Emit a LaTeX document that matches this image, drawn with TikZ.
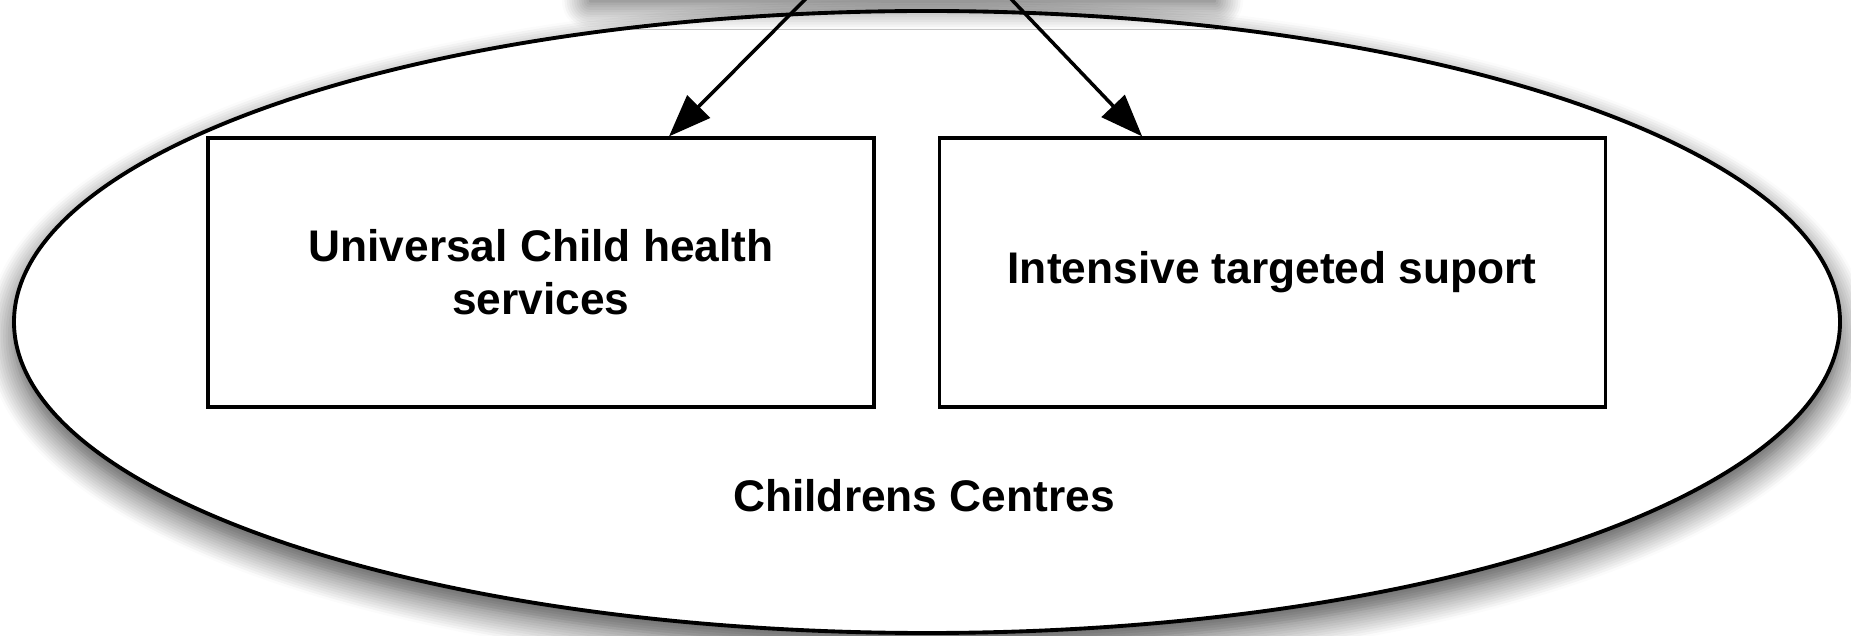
\documentclass[tikz,border=0pt]{standalone}
\usepackage{fontspec}
\setmainfont{Liberation Sans}
\usetikzlibrary{positioning, arrows.meta, shapes.geometric, calc, shadows.blur}

\begin{document}
\begin{tikzpicture}[
    svcbox/.style={draw, line width=0.9pt, fill=white, minimum width=6.66cm, minimum height=2.69cm, align=center, font=\bfseries\fontsize{12.6}{15}\selectfont},
    link/.style={-{Triangle[length=12pt, width=9pt, fill=black]}, line width=1pt, draw=black},
    softshadow/.style={blur shadow={shadow xshift=0pt, shadow yshift=-0.14cm, shadow blur radius=0.28cm, shadow blur steps=12, shadow opacity=75}}]
    \useasboundingbox (0,0) rectangle (18.51,6.35);
    % outer ellipse
    \draw[line width=1.1pt, fill=white, softshadow] (9.27,3.13) ellipse [x radius=9.13, y radius=3.11];
    \node[font=\bfseries\fontsize{12.6}{15}\selectfont] (cclabel) at (9.24,1.39) {Childrens Centres};
    % the two services
    \node[svcbox] (univ) at (5.41,3.625) {Universal Child health\\services};
    \node[svcbox, right=0.62cm of univ] (support) {Intensive targeted suport};
    % box above, out of frame
    \node[draw, line width=0.9pt, fill=white, minimum width=6.25cm, minimum height=1.2cm, anchor=south, softshadow] (hub) at (9.025,6.46) {};
    \draw[link] ($(hub.south)+(-0.87,0)$) -- ($(univ.north)+(1.28,0)$);
    \draw[link] ($(hub.south)+(0.99,0)$) -- ($(support.north)+(-1.30,0)$);
\end{tikzpicture}
\end{document}
